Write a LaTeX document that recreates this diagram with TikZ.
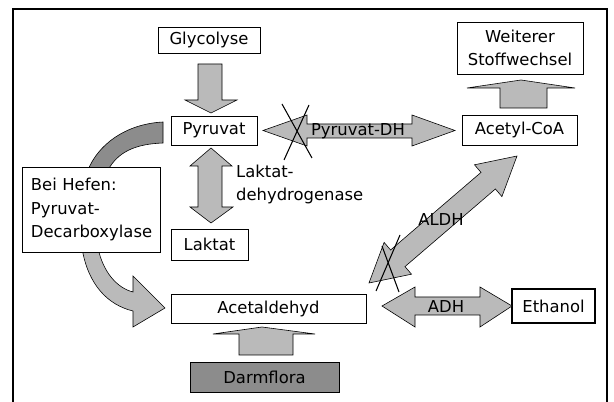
\documentclass[tikz,border=0pt]{standalone}
\usepackage{fontspec}
\setmainfont{DejaVu Sans}

\tikzset{
  box/.style={draw, line width=0.8pt, fill=white, font=\fontsize{14}{20}\selectfont, inner sep=2pt},
  blockarrow/.style={draw, line width=0.5pt, fill=black!27},
  darkarrow/.style={draw, line width=0.5pt, fill=black!45},
  lbl/.style={font=\fontsize{14}{20}\selectfont},
  cross/.style={line width=0.9pt}
}

\begin{document}
\begin{tikzpicture}[x=0.03cm,y=-0.03cm]
\useasboundingbox (0,0) rectangle (614,402);
\draw[line width=1.1pt] (13,402) -- (13,9) -- (607,9) -- (607,402);

% curved arrow, runs behind the yeast box
\draw[darkarrow] (163,122) .. controls (125,124) and (98,145) .. (88,170) -- (108,170) .. controls (118,152) and (135,144) .. (163,143) -- cycle;
\draw[blockarrow] (82,248) .. controls (88,285) and (108,305) .. (133,311) -- (133,327) -- (165,308) -- (133,276) -- (133,292) .. controls (117,288) and (103,272) .. (98,248) -- cycle;

\node[box, minimum width=3.06cm, minimum height=0.78cm] (gly) at (209,40) {Glycolyse};
\node[box, minimum width=2.58cm, minimum height=0.87cm] (pyr) at (214,130.5) {Pyruvat};
\node[box, minimum width=3.78cm, minimum height=1.56cm, align=center] (stw) at (520,48) {Weiterer\\Stoffwechsel};
\node[box, minimum width=3.45cm, minimum height=0.9cm] (aco) at (519.5,130) {Acetyl-CoA};
\node[box, text width=3.6cm, inner xsep=0.27cm, minimum height=2.55cm, align=left] (hef) at (91,209.5) {Bei Hefen:\\Pyruvat-\\Decarboxylase};
\node[box, minimum width=2.31cm, minimum height=0.93cm] (lak) at (209.5,244.5) {Laktat};
\node[box, minimum width=5.85cm, minimum height=0.87cm] (ald) at (268.5,308.5) {Acetaldehyd};
\node[box, fill=black!45, minimum width=4.47cm, minimum height=0.9cm] (dfl) at (264.5,377) {Darmflora};
\node[box, line width=1.6pt, minimum width=2.49cm, minimum height=1.02cm] (eth) at (553.5,306) {Ethanol};

% Glycolyse -> Pyruvat
\draw[blockarrow] (198,64) -- (222,64) -- (222,100) -- (237,100) -- (211,113) -- (185,100) -- (198,100) -- cycle;
% Pyruvat <-> Laktat
\draw[blockarrow] (211,148) -- (232,166) -- (222,166) -- (222,207) -- (233,207) -- (211,223) -- (190,207) -- (198,207) -- (198,166) -- (190,166) -- cycle;
\node[lbl, anchor=west, align=left] (ldh) at (232,184.5) {Laktat-\\dehydrogenase};
% Pyruvat <-> Acetyl-CoA
\draw[blockarrow] (263,130.5) -- (307,115) -- (307,124) -- (412,124) -- (412,115) -- (455,130.5) -- (412,146) -- (412,138) -- (307,138) -- (307,146) -- cycle;
\node[lbl] (pdh) at (358,131) {Pyruvat-DH};
\draw[cross] (282,104) -- (312,158);
\draw[cross] (309,105) -- (284,160);
% Acetyl-CoA -> Weiterer Stoffwechsel
\draw[blockarrow] (500,108) -- (500,88) -- (467,88) -- (521,80) -- (575,88) -- (547,88) -- (547,108) -- cycle;
% Darmflora -> Acetaldehyd
\draw[blockarrow] (239,355) -- (239,334) -- (213,334) -- (262,327) -- (315,334) -- (293,334) -- (293,355) -- cycle;
% Acetaldehyd <-> Acetyl-CoA
\draw[blockarrow] (369,283) -- (411.5,274.2) -- (405,266.6) -- (495.4,189) -- (501.9,196.6) -- (517,156) -- (474.5,164.8) -- (481,172.4) -- (390.6,250) -- (384.1,242.4) -- cycle;
\node[lbl] (aldh) at (441,220) {ALDH};
\draw[cross] (382,246) -- (399,292);
\draw[cross] (400,235) -- (376,291);
% Acetaldehyd <-> Ethanol
\draw[blockarrow] (382,306) -- (415,287) -- (415,297) -- (480,297) -- (480,287) -- (512,306) -- (480,327) -- (480,315) -- (415,315) -- (415,327) -- cycle;
\node[lbl] (adh) at (446,307) {ADH};

\end{tikzpicture}
\end{document}
